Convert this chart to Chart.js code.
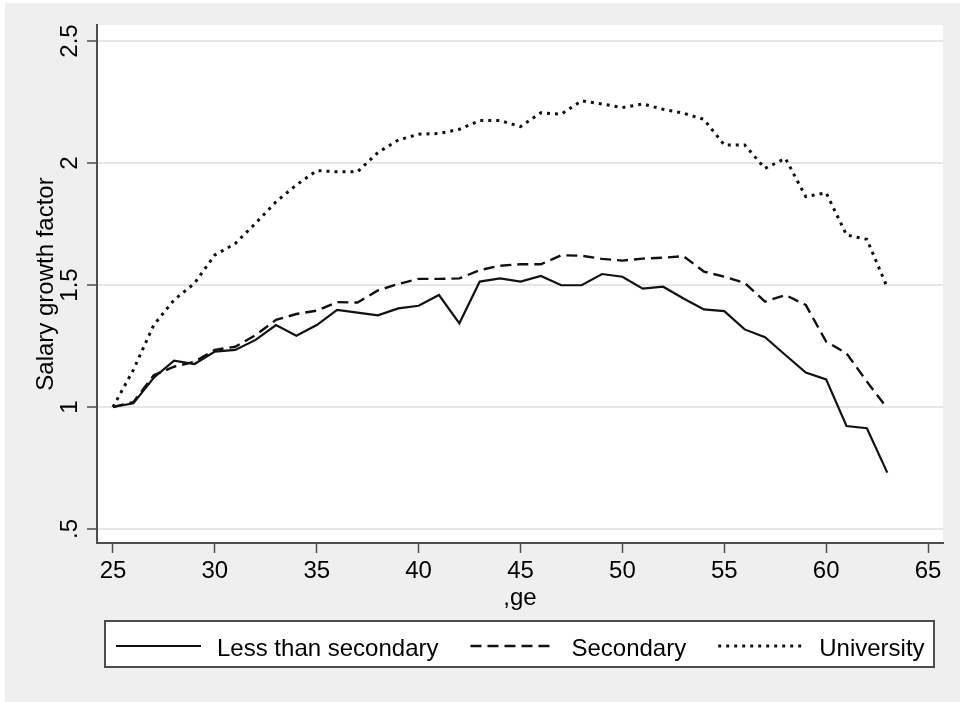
<!doctype html>
<html>
<head>
<meta charset="utf-8">
<title>Salary growth factor</title>
<script src="https://cdn.jsdelivr.net/npm/chart.js@4.4.1/dist/chart.umd.min.js"></script>
<style>
  body { margin: 0; background: #ffffff; }
</style>
</head>
<body>
<canvas id="chart" width="960" height="702"></canvas>
<script>
// age on the x axis, one value per year
var ages = [25,26,27,28,29,30,31,32,33,34,35,36,37,38,39,40,41,42,43,44,
            45,46,47,48,49,50,51,52,53,54,55,56,57,58,59,60,61,62,63];

var lessSecondary = [1.000,1.015,1.120,1.190,1.176,1.227,1.234,1.275,1.336,1.292,
                     1.336,1.398,1.387,1.376,1.404,1.415,1.459,1.343,1.514,1.527,
                     1.514,1.537,1.499,1.499,1.545,1.534,1.485,1.493,1.445,1.400,
                     1.393,1.318,1.286,1.213,1.141,1.113,0.922,0.913,0.731];

var secondary = [1.000,1.020,1.130,1.165,1.186,1.234,1.247,1.295,1.357,1.381,
                 1.395,1.430,1.428,1.478,1.504,1.525,1.525,1.527,1.561,1.579,
                 1.585,1.585,1.622,1.620,1.607,1.600,1.608,1.612,1.618,1.555,
                 1.534,1.509,1.432,1.459,1.418,1.268,1.220,1.104,0.995];

var university = [1.000,1.152,1.336,1.439,1.507,1.623,1.670,1.753,1.841,1.910,
                  1.969,1.964,1.964,2.043,2.094,2.118,2.121,2.138,2.174,2.174,
                  2.149,2.206,2.200,2.255,2.242,2.227,2.242,2.220,2.204,2.179,
                  2.074,2.074,1.978,2.019,1.862,1.878,1.705,1.687,1.490];

var xTicks = [25,30,35,40,45,50,55,60,65];
var yTicks = [0.5,1,1.5,2,2.5];
var yTickLabels = ['.5','1','1.5','2','2.5'];

var FONT = '"Liberation Sans", Arial, Helvetica, sans-serif';
var AXIS = '#4d4d4d';

function points(vals) {
    var out = [];
    for (var i = 0; i < ages.length; i++) out.push({x: ages[i], y: vals[i]});
    return out;
}

function serie(label, vals, dash, width) {
    return {
        label: label,
        data: points(vals),
        borderColor: '#111111',
        borderWidth: width,
        borderDash: dash,
        borderCapStyle: 'butt',
        borderJoinStyle: 'miter',
        pointRadius: 0,
        tension: 0,
        fill: false
    };
}

// grey page, white plot region
var fond = {
    id: 'fond',
    beforeDraw: function(chart) {
        var ctx = chart.ctx, a = chart.chartArea;
        ctx.save();
        ctx.fillStyle = '#ffffff';
        ctx.fillRect(0, 0, chart.width, chart.height);
        ctx.fillStyle = '#efefef';
        ctx.fillRect(5, 3, chart.width - 5, chart.height - 3);
        ctx.fillStyle = '#ffffff';
        ctx.fillRect(a.left, a.top, a.right - a.left, a.bottom - a.top);
        ctx.restore();
    }
};

// stata style legend box under the axis
var legende = {
    id: 'legende',
    afterDraw: function(chart) {
        var ctx = chart.ctx;
        var boxL = 105, boxT = 621, boxW = 829, boxH = 46;
        var cy = boxT + 25;
        ctx.save();
        ctx.fillStyle = '#ffffff';
        ctx.fillRect(boxL, boxT, boxW, boxH);
        ctx.strokeStyle = AXIS;
        ctx.lineWidth = 2;
        ctx.strokeRect(boxL, boxT, boxW, boxH);
        ctx.font = '24px ' + FONT;
        ctx.textBaseline = 'middle';
        ctx.fillStyle = '#000000';
        var x = 116;
        chart.data.datasets.forEach(function(ds) {
            ctx.beginPath();
            ctx.setLineDash(ds.borderDash);
            ctx.lineWidth = ds.borderWidth;
            ctx.strokeStyle = ds.borderColor;
            ctx.moveTo(x, cy);
            ctx.lineTo(x + 85, cy);
            ctx.stroke();
            ctx.setLineDash([]);
            ctx.fillText(ds.label, x + 101, cy + 3);
            x += 101 + ctx.measureText(ds.label).width + 32;
        });
        ctx.restore();
    }
};

new Chart(document.getElementById('chart'), {
    type: 'line',
    data: {
        datasets: [
            serie('Less than secondary', lessSecondary, [], 2.2),
            serie('Secondary', secondary, [11, 6], 2.4),
            serie('University', university, [3, 5], 3)
        ]
    },
    plugins: [fond, legende],
    options: {
        responsive: false,
        animation: false,
        devicePixelRatio: 1,
        layout: { padding: { left: 0, top: 25, right: 17, bottom: 84 } },
        plugins: {
            legend: { display: false },
            tooltip: { enabled: false }
        },
        scales: {
            x: {
                type: 'linear',
                min: 24.216,
                max: 65.735,
                afterFit: function(s) { s.height = 75; },
                afterBuildTicks: function(s) {
                    s.ticks = xTicks.map(function(v) { return {value: v}; });
                },
                grid: {
                    drawOnChartArea: false,
                    drawTicks: true,
                    tickLength: 10,
                    tickWidth: 1.5,
                    tickColor: AXIS
                },
                border: { display: true, color: AXIS, width: 2 },
                ticks: {
                    padding: 4,
                    maxRotation: 0,
                    color: '#000000',
                    font: { family: FONT, size: 24 }
                },
                title: {
                    display: true,
                    text: ',ge',
                    color: '#000000',
                    padding: { top: 0, bottom: 5 },
                    font: { family: FONT, size: 24, lineHeight: 1.2 }
                }
            },
            y: {
                min: 0.4426,
                max: 2.5656,
                afterFit: function(s) { s.width = 97; },
                afterBuildTicks: function(s) {
                    s.ticks = yTicks.map(function(v) { return {value: v}; });
                },
                grid: {
                    color: '#e6e6e6',
                    lineWidth: 2,
                    drawTicks: true,
                    tickLength: 10,
                    tickWidth: 1.5,
                    tickColor: AXIS
                },
                border: { display: true, color: AXIS, width: 2 },
                ticks: {
                    padding: 0,
                    minRotation: 90,
                    maxRotation: 90,
                    crossAlign: 'center',
                    color: '#000000',
                    font: { family: FONT, size: 24 },
                    callback: function(v) {
                        var i = yTicks.indexOf(v);
                        return i >= 0 ? yTickLabels[i] : '';
                    }
                },
                title: {
                    display: true,
                    text: 'Salary growth factor',
                    color: '#000000',
                    padding: { top: 32, bottom: 0 },
                    font: { family: FONT, size: 24, lineHeight: 1.2 }
                }
            }
        }
    }
});
</script>
</body>
</html>
